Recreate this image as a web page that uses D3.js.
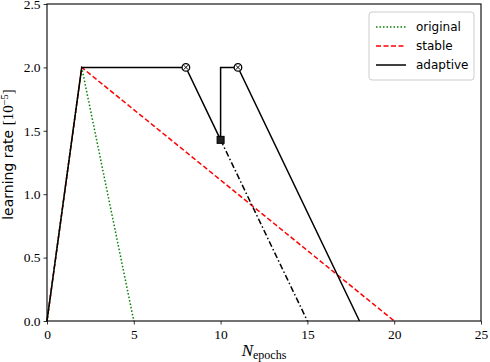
<!DOCTYPE html>
<html>
<head>
<meta charset="utf-8">
<script src="https://d3js.org/d3.v7.min.js"></script>
<style>
  body { margin: 0; background: #fff; }
  .tick text { font-family: "Liberation Serif", "DejaVu Serif", serif; font-size: 13.5px; }
</style>
</head>
<body>
<div id="chart"></div>
<script>
// data
var xTicks = [0, 5, 10, 15, 20, 25];
var yTicks = [0.0, 0.5, 1.0, 1.5, 2.0, 2.5];
var original = [[0, 0], [2, 2], [5, 0]];
var stable = [[0, 0], [2, 2], [20, 0]];
var adaptive = [[0, 0], [2, 2], [8, 2], [10, 1.4286], [10, 2], [11, 2], [18, 0]];
var adaptiveProjected = [[10, 1.4286], [15, 0]];
var circleMarks = [[8, 2], [11, 2]];
var squareMarks = [[10, 1.4286]];

var W = 490, H = 362;
var margin = {top: 4, right: 9, bottom: 41, left: 47};
var width = W - margin.left - margin.right,
    height = H - margin.top - margin.bottom;

var svg = d3.select("#chart").append("svg")
    .attr("width", W).attr("height", H)
    .append("g")
    .attr("transform", "translate(" + margin.left + "," + margin.top + ")");

var x = d3.scaleLinear().domain([0, 25]).range([0, width]);
var y = d3.scaleLinear().domain([0, 2.5]).range([height, 0]);

var line = d3.line().x(d => x(d[0])).y(d => y(d[1]));

// lines
svg.append("path").datum(stable).attr("d", line)
    .attr("fill", "none").attr("stroke", "#ff0000").attr("stroke-width", 1.5)
    .attr("stroke-dasharray", "5,2.5");
svg.append("path").datum(original).attr("d", line)
    .attr("fill", "none").attr("stroke", "#008000").attr("stroke-width", 1.5)
    .attr("stroke-dasharray", "1.5,2");
svg.append("path").datum(adaptiveProjected).attr("d", line)
    .attr("fill", "none").attr("stroke", "#000").attr("stroke-width", 1.5)
    .attr("stroke-dasharray", "6,2.5,1.5,2.5");
svg.append("path").datum(adaptive).attr("d", line)
    .attr("fill", "none").attr("stroke", "#000").attr("stroke-width", 1.5);

// markers
var cm = svg.selectAll(".cm").data(circleMarks).enter().append("g")
    .attr("transform", d => "translate(" + x(d[0]) + "," + y(d[1]) + ")");
cm.append("circle").attr("r", 3.8).attr("fill", "#fff").attr("stroke", "#000").attr("stroke-width", 1.3);
cm.append("path").attr("d", "M-2.3,-2.3L2.3,2.3M-2.3,2.3L2.3,-2.3").attr("stroke", "#000").attr("stroke-width", 1);

svg.selectAll(".sm").data(squareMarks).enter().append("rect")
    .attr("x", d => x(d[0]) - 3.5).attr("y", d => y(d[1]) - 3.5)
    .attr("width", 7).attr("height", 7)
    .attr("fill", "#222").attr("stroke", "#000").attr("stroke-width", 1);

// axes
svg.append("g")
    .attr("transform", "translate(0," + height + ")")
    .call(d3.axisBottom(x).tickValues(xTicks).tickFormat(d3.format("d")).tickSizeOuter(0).tickSize(3.5).tickPadding(5));
svg.append("g")
    .call(d3.axisLeft(y).tickValues(yTicks).tickFormat(d3.format(".1f")).tickSizeOuter(0).tickSize(3.5).tickPadding(3));
svg.selectAll(".domain").remove();
svg.selectAll(".tick line").attr("stroke", "#000").attr("stroke-width", 0.8);

// frame
svg.append("rect").attr("width", width).attr("height", height)
    .attr("fill", "none").attr("stroke", "#000").attr("stroke-width", 1.1);

// x label
var xl = svg.append("text")
    .attr("x", width / 2).attr("y", height + 35)
    .attr("text-anchor", "middle")
    .style("font-family", "Liberation Serif, DejaVu Serif, serif");
xl.append("tspan").text("N").style("font-style", "italic").style("font-size", "17px");
xl.append("tspan").text("epochs").attr("dy", 3).style("font-size", "12px");

// y label
var yl = svg.append("text")
    .attr("transform", "translate(-34," + (height / 2 - 8) + ") rotate(-90)")
    .attr("text-anchor", "middle");
yl.append("tspan").text("learning rate ")
    .style("font-family", "DejaVu Sans, sans-serif").style("font-size", "14px");
yl.append("tspan").text("[10")
    .style("font-family", "Liberation Serif, serif").style("font-size", "15px");
yl.append("tspan").text("\u22125").attr("dy", -5)
    .style("font-family", "Liberation Serif, serif").style("font-size", "10.5px");
yl.append("tspan").text("]").attr("dy", 5)
    .style("font-family", "Liberation Serif, serif").style("font-size", "15px");

// legend
var legendItems = [
    {name: "original", color: "#008000", dash: "1.5,2"},
    {name: "stable", color: "#ff0000", dash: "5,2.5"},
    {name: "adaptive", color: "#000", dash: null}
];
var lg = svg.append("g").attr("transform", "translate(" + (width - 112) + ",8)");
lg.append("rect").attr("width", 105).attr("height", 68).attr("rx", 3)
    .attr("fill", "#fff").attr("stroke", "#ccc").attr("stroke-width", 1);
var li = lg.selectAll(".li").data(legendItems).enter().append("g")
    .attr("transform", (d, i) => "translate(0," + (15 + i * 19) + ")");
li.append("line").attr("x1", 7).attr("x2", 37)
    .attr("stroke", d => d.color).attr("stroke-width", 1.5)
    .attr("stroke-dasharray", d => d.dash);
li.append("text").attr("x", 47).attr("dy", "0.35em")
    .style("font-family", "DejaVu Sans, sans-serif").style("font-size", "12px")
    .text(d => d.name);
</script>
</body>
</html>
